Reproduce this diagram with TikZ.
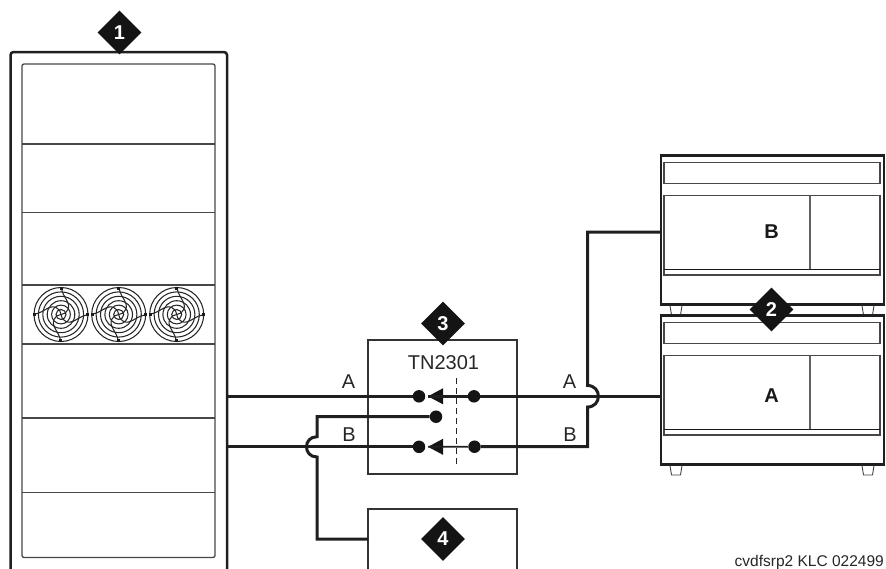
\documentclass[tikz,border=0pt]{standalone}
\usepackage{fontspec}
\usetikzlibrary{shapes.geometric}
\setmainfont{Liberation Sans}
\begin{document}
\begin{tikzpicture}[x=1pt,y=-1pt,
  heavy/.style={line width=3pt,draw=black!88,line join=miter},
  wire/.style={line width=2.6pt,draw=black!88},
  panel/.style={line width=1.3pt,draw=black!72},
  thinpanel/.style={line width=1.1pt,draw=black!62},
  outline/.style={draw=black!88,line width=2.5pt,inner sep=0pt,outer sep=0pt,anchor=north west},
  card/.style={draw=black!80,line width=2pt,inner sep=0pt,outer sep=0pt,anchor=north west},
  dotn/.style={circle,fill=black!92,minimum size=12.5pt,inner sep=0pt},
  badge/.style={diamond,aspect=1,fill=black!92,text=white,font=\fontsize{20}{20}\selectfont\bfseries,minimum width=44pt,minimum height=44pt,inner sep=0pt},
  lab/.style={font=\fontsize{20}{20}\selectfont,text=black!85,inner sep=0pt},
  blab/.style={font=\fontsize{20}{20}\selectfont\bfseries,text=black!90,inner sep=0pt},
  tip/.style={fill=black!92,draw=none}]
\useasboundingbox (0,0) rectangle (886,568);
\clip (0,0) rectangle (886,568);

% Rack
\node[outline,rounded corners=3pt,minimum width=216.5pt,minimum height=560pt] (rack) at (10.5,52) {};
\node[anchor=north west,inner sep=0pt,outer sep=0pt,draw=black!72,line width=1.3pt,rounded corners=2pt,minimum width=193pt,minimum height=493.5pt] (inner) at (22,64) {};
\foreach \yy in {144,212.5,285,344,418,492.5}
  \draw[panel] (inner.west |- 0,\yy) -- (inner.east |- 0,\yy);

% Fans
\foreach \cx in {61,118.7,176.7}{
  \begin{scope}[shift={(\cx,314.5)}]
    \foreach \rr in {27,22.6,18.2,13.8,9.4,5}
      \draw[line width=1.05pt,black!85] (0,0) circle[radius=\rr pt];
    \foreach \aa in {0,90,180,270}{
      \begin{scope}[rotate=\aa]
        \draw[line width=1.05pt,black!85] (0.5,-26) .. controls (2,-17) and (10,-12) .. (7,-5) .. controls (6,-2) and (3,0) .. (0,0);
        \fill[black!90] (-1.3,-27.8) rectangle (1.7,-24.8);
      \end{scope}
    }
  \end{scope}
}

% Units
\foreach \nm/\off/\letter/\ly in {unitB/0/B/232,unitA/160/A/236}{
  \begin{scope}[yshift=-\off pt]
    \node[outline,minimum width=223pt,minimum height=149pt] (\nm) at (661,155.7) {};
    \draw[panel] (664,162.5) rectangle (880,183.7);
    \draw[panel] (664,195.7) rectangle (880,275);
    \draw[line width=1.2pt,black!90] (664,269.3) -- (880,269.3);
    \draw[thinpanel] (810,195.7) -- (810,269.3);
    \node[blab] at (771.5,\ly) {\letter};
    \draw[line width=0.9pt,black!75] (670,305.5) -- (671.5,315) -- (680.5,315) -- (682,305.5);
    \draw[line width=0.9pt,black!75] (862,305.5) -- (863.5,315) -- (872.5,315) -- (874,305.5);
  \end{scope}
}

% TN2301 and box 4
\node[card,minimum width=149pt,minimum height=134pt] (tn) at (368,340) {};
\node[card,minimum width=149pt,minimum height=100pt] (aux) at (368,509) {};
\node[lab] (tnlabel) at (443.5,362.5) {TN2301};
\draw[line width=1.5pt,black!85,dash pattern=on 5.5pt off 4.5pt] (456.5,378) -- (456.5,465);

% Switch contacts
\node[dotn] (la) at (419,396.3) {};
\node[dotn] (ra) at (474,396.3) {};
\node[dotn] (mid) at (436,416.7) {};
\node[dotn] (lb) at (419,446.8) {};
\node[dotn] (rb) at (474.5,446.7) {};

% Arrow heads
\coordinate (ta) at (428,396.3);
\coordinate (tb) at (428,446.8);
\fill[tip] (ta) -- (443,388.3) -- (443,404.3) -- cycle;
\fill[tip] (tb) -- (443,438.8) -- (443,454.8) -- cycle;

% Wires
\draw[heavy] (rack.east |- la) -- (la);
\draw[heavy] (rack.east |- lb) -- (lb);
\draw[wire] (ra) -- (ta);
\draw[line width=1.8pt,black!88] (rb) -- (tb);
\draw[heavy] (unitA.west |- ra) -- (ra);

\coordinate (top) at (587.5,232);
\coordinate (ja) at (587.5,385.5);
\coordinate (jb) at (587.5,407);
\coordinate (corner) at (587.5,446.7);
\draw[heavy] (unitB.west |- top) -- (top) -- (ja)
   .. controls (602,385.5) and (602,407) .. (jb) -- (corner) -- (rb);

\coordinate (lc) at (317,416.7);
\coordinate (jc) at (317,436.7);
\coordinate (jd) at (317,457);
\coordinate (le) at (317,539);
\draw[heavy] (mid) -- (lc) -- (jc)
   .. controls (303,436.7) and (303,457) .. (jd) -- (le) -- (aux.west |- le);

% Wire labels
\node[lab] (a1) at (348.5,382) {A};
\node[lab] (b1) at (349,434.5) {B};
\node[lab] (a2) at (569.5,382) {A};
\node[lab] (b2) at (570,434.5) {B};

% Badges
\node[badge] (n1) at (119.5,32.5) {1};
\node[badge] (n2) at (771.5,309.5) {2};
\node[badge] (n3) at (443,323.5) {3};
\node[badge] (n4) at (443,539) {4};

% Caption
\node[anchor=base east,inner sep=0pt,font=\fontsize{15.5}{15.5}\selectfont,text=black!85] (cap) at (884,566) {cvdfsrp2 KLC 022499};
\end{tikzpicture}
\end{document}
